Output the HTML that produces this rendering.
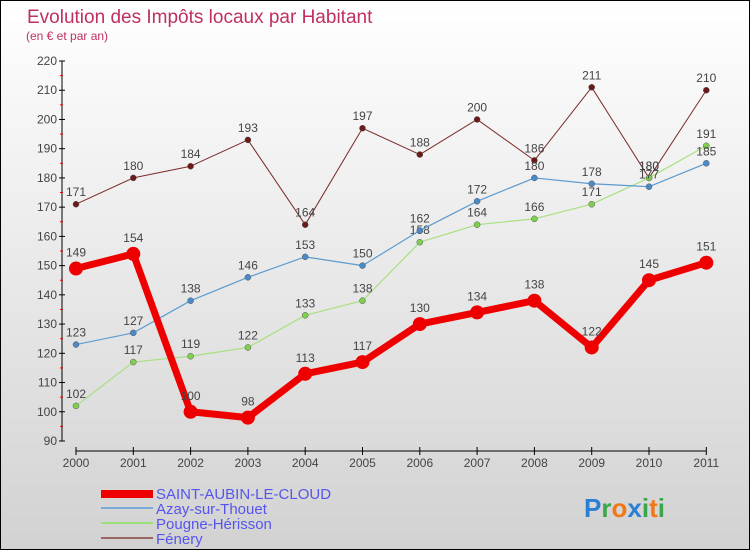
<!DOCTYPE html>
<html><head><meta charset="utf-8"><style>
body{margin:0}
#c{width:748px;height:548px;border:1px solid #000;background:linear-gradient(#fff,#d2d2d2);position:relative;font-family:"Liberation Sans",sans-serif}
</style></head><body>
<div id="c">
<svg id="s" width="748" height="548" style="position:absolute;left:0;top:0" font-family="Liberation Sans, sans-serif">
<text x="26" y="22" font-size="19" fill="#c0305e">Evolution des Impôts locaux par Habitant</text>
<text x="25" y="39" font-size="12" fill="#c0305e">(en € et par an)</text>
<g>
<rect x="100" y="489" width="52" height="8" fill="#e00"/>
<text x="155" y="498" font-size="15" fill="#5555ee">SAINT-AUBIN-LE-CLOUD</text>
<line x1="100" y1="507" x2="152" y2="507" stroke="#7aaad8" stroke-width="2"/>
<text x="155" y="513" font-size="15" fill="#5555ee">Azay-sur-Thouet</text>
<line x1="100" y1="522" x2="152" y2="522" stroke="#9ee07a" stroke-width="2"/>
<text x="155" y="528" font-size="15" fill="#5555ee">Pougne-Hérisson</text>
<line x1="100" y1="537" x2="152" y2="537" stroke="#996666" stroke-width="2"/>
<text x="155" y="543" font-size="15" fill="#5555ee">Fénery</text>
</g>
<text x="583" y="516" font-size="26" font-weight="bold"><tspan fill="#2a7fd4">P</tspan><tspan fill="#3aa84a">r</tspan><tspan fill="#f07818">o</tspan><tspan fill="#2a7fd4">x</tspan><tspan fill="#3aa84a">i</tspan><tspan fill="#f07818">t</tspan><tspan fill="#3aa84a">i</tspan></text>
</svg>
</div>
<script>
const years=["2000","2001","2002","2003","2004","2005","2006","2007","2008","2009","2010","2011"];
const yTicks=[90,100,110,120,130,140,150,160,170,180,190,200,210,220];
const saint=[149,154,100,98,113,117,130,134,138,122,145,151];
const azay=[123,127,138,146,153,150,162,172,180,178,177,185];
const pougne=[102,117,119,122,133,138,158,164,166,171,180,191];
const fenery=[171,180,184,193,164,197,188,200,186,211,180,210];
const NS="http://www.w3.org/2000/svg",s=document.getElementById('s');
const x=i=>75+i*57.3, y=v=>60+(220-v)*380/130;
function el(t,a,p){const e=document.createElementNS(NS,t);for(const k in a)e.setAttribute(k,a[k]);(p||s).appendChild(e);return e;}
const ax=el('g',{});


el('line',{x1:61,y1:60,x2:61,y2:440,stroke:'#000'},ax);
yTicks.forEach(v=>{el('line',{x1:58,y1:y(v),x2:64,y2:y(v),stroke:'#000'},ax);
 if(v<220)el('line',{x1:59,y1:y(v+5),x2:62,y2:y(v+5),stroke:'#e00'},ax);
 const t=el('text',{x:56,y:y(v)+4,'font-size':12,'text-anchor':'end',fill:'#444'},ax);t.textContent=v;});
el('line',{x1:75,y1:450,x2:x(11),y2:450,stroke:'#000'},ax);
years.forEach((yr,i)=>{el('line',{x1:x(i),y1:446,x2:x(i),y2:454,stroke:'#000'},ax);
 const t=el('text',{x:x(i),y:466,'font-size':12,'text-anchor':'middle',fill:'#444'},ax);t.textContent=yr;});
function series(d,col,dot,w,r,name){
 const g=el('g',{});
 
 
 el('polyline',{points:d.map((v,i)=>x(i)+','+y(v)).join(' '),fill:'none',stroke:col,'stroke-width':w,'stroke-linejoin':'round'},g);
 d.forEach((v,i)=>{const c=el('circle',{cx:x(i),cy:y(v),r:r,fill:dot,stroke:w>2?'none':'#555','stroke-width':0.5},g);
  
  
  const t=el('text',{x:x(i),y:y(v)-(r+5),'font-size':12,'text-anchor':'middle',fill:'#444'},g);t.textContent=v;});
}
series(fenery,'#7a2b2b','#6b1a1a',1,3,'series-fenery');
series(pougne,'#a8e080','#80d050',1.2,3,'series-pougne');
series(azay,'#5b9bd0','#4a8ac8',1.2,3,'series-azay');
series(saint,'#ee0000','#ee0000',7,7,'series-saint-aubin');
</script>
</body></html>
